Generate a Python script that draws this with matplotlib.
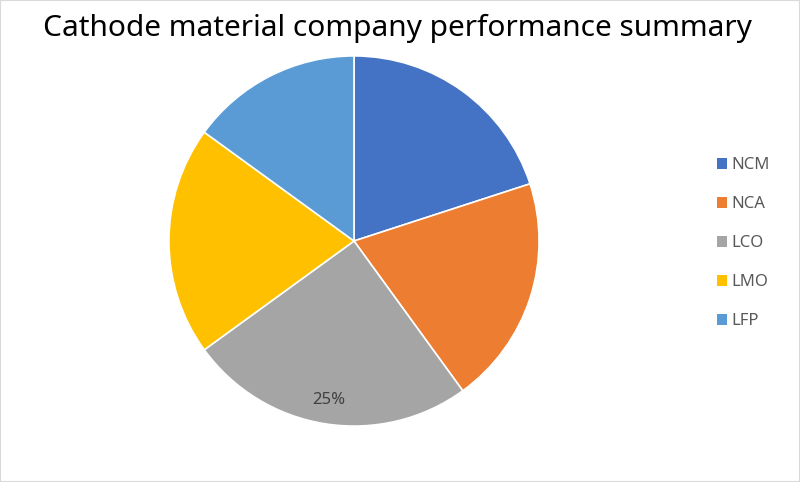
import matplotlib.pyplot as plt
from matplotlib.patches import Patch

labels = ["NCM", "NCA", "LCO", "LMO", "LFP"]
shares = [20, 20, 25, 20, 15]
colors = ["#4472C4", "#ED7D31", "#A5A5A5", "#FFC000", "#5B9BD5"]

plt.rcParams["font.family"] = ["Noto Sans", "DejaVu Sans"]

fig = plt.figure(figsize=(8, 4.82), dpi=100)
ax = fig.add_axes([168 / 800, 55 / 482, 372 / 800, 372 / 482])


def pct_label(p):
    # only the LCO slice carries a data label in the original
    return f"{p:.0f}%" if round(p) == 25 else ""


wedges, texts, autotexts = ax.pie(
    shares,
    colors=colors,
    startangle=90,
    counterclock=False,
    autopct=pct_label,
    pctdistance=0.87,
    wedgeprops=dict(edgecolor="white", linewidth=1.2),
    textprops=dict(color="#404040", fontsize=12),
)
ax.set_xlim(-1.005, 1.005)
ax.set_ylim(-1.005, 1.005)
ax.set_aspect("equal")

fig.text(0.497, 0.94, "Cathode material company performance summary",
         ha="center", va="center", fontsize=21.5, color="black")

handles = [Patch(facecolor=c, edgecolor="none") for c in colors]
fig.legend(handles, labels, loc="center left", bbox_to_anchor=(0.877, 0.495),
           frameon=False, fontsize=12, labelcolor="#595959",
           handlelength=0.6, handleheight=0.6, handletextpad=0.3,
           labelspacing=1.38)

fig.patches.append(plt.Rectangle((0, 0), 1, 1, transform=fig.transFigure,
                                 fill=False, edgecolor="#D9D9D9", linewidth=1.5))

plt.savefig("out.png", dpi=100)
